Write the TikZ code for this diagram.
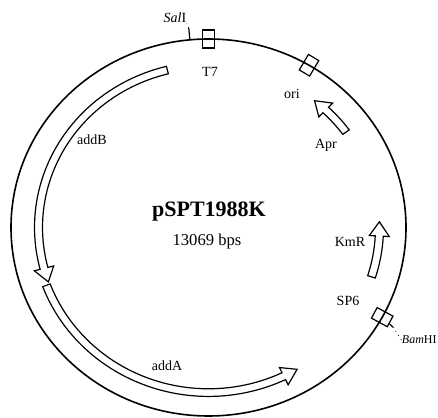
\documentclass[tikz,border=0pt]{standalone}
\usepackage{fontspec}
\setmainfont{Liberation Serif}
\usetikzlibrary{calc}

% fat arrow along the ring: start angle, end angle, radius
\newcommand{\genearrow}[3]{({#1}:{#3+4}) arc[start angle={#1}, end angle={#2-5}, radius={#3+4}] -- ({#2-5}:{#3+10}) -- ({#2}:{#3}) -- ({#2-5}:{#3-10}) -- ({#2-5}:{#3-4}) arc[start angle={#2-5}, end angle={#1}, radius={#3-4}] -- cycle}

\begin{document}
\begin{tikzpicture}[x=0.5pt, y=0.5pt,
    lbl/.style={font=\fontsize{7}{8}\selectfont, inner sep=0pt},
    site/.style={draw, line width=0.6pt, minimum width=6pt, minimum height=9pt, inner sep=0pt},
    gene/.style={draw, line width=0.6pt, fill=white, line join=miter}]

    \useasboundingbox (0,0) rectangle (438,417);
    \coordinate (O) at (208.5,189.5);

    \begin{scope}[shift={(O)}, yscale=0.9544]
        \draw[line width=0.8pt] (0,0) circle (197.5);

        \node[site] (T7site) at (90:197.5) {};
        \node[site, rotate=-30.6] (orisite) at (59.4:197.5) {};
        \node[site, rotate=-118.4] (BamHIsite) at (-28.4:197.5) {};

        \draw[gene] \genearrow{104}{199.6}{170};
        \draw[gene] \genearrow{200.5}{300.8}{173};
        \draw[gene] \genearrow{36}{51.4}{170};
        \draw[gene] \genearrow{-17.6}{2}{171};

        \coordinate (SalIcut) at (95.4:197.5);
        \coordinate (SalItick) at (95.4:210);
        \coordinate (BamHItick) at (-29.5:212);
    \end{scope}

    \node[font=\fontsize{11}{13}\selectfont\bfseries] (name) at (209,205) {pSPT1988K};
    \node[font=\fontsize{8.3}{10}\selectfont] (size) at (207,175) {13069 bps};

    \node[lbl] (SalI) at (175,399) {\textit{Sal}I};
    \node[lbl] (T7) at (210,345) {T7};
    \node[lbl] (ori) at (292,323) {ori};
    \node[lbl] (Apr) at (326,272) {Apr};
    \node[lbl] (KmR) at (350,175) {KmR};
    \node[lbl] (SP6) at (348,116) {SP6};
    \node[lbl, font=\fontsize{6}{7}\selectfont, anchor=east] (BamHI) at (437,77) {\textit{Bam}HI};
    \node[lbl] (addB) at (92,277) {addB};
    \node[lbl] (addA) at (167,51) {addA};

    \draw[line width=0.6pt] (SalIcut) -- (SalItick);
    \draw[dotted] (SalItick) -- (SalI.south east);
    \draw[line width=0.6pt] (BamHIsite) -- (BamHItick);
    \draw[dotted] (BamHItick) -- (BamHI.west);
\end{tikzpicture}
\end{document}
